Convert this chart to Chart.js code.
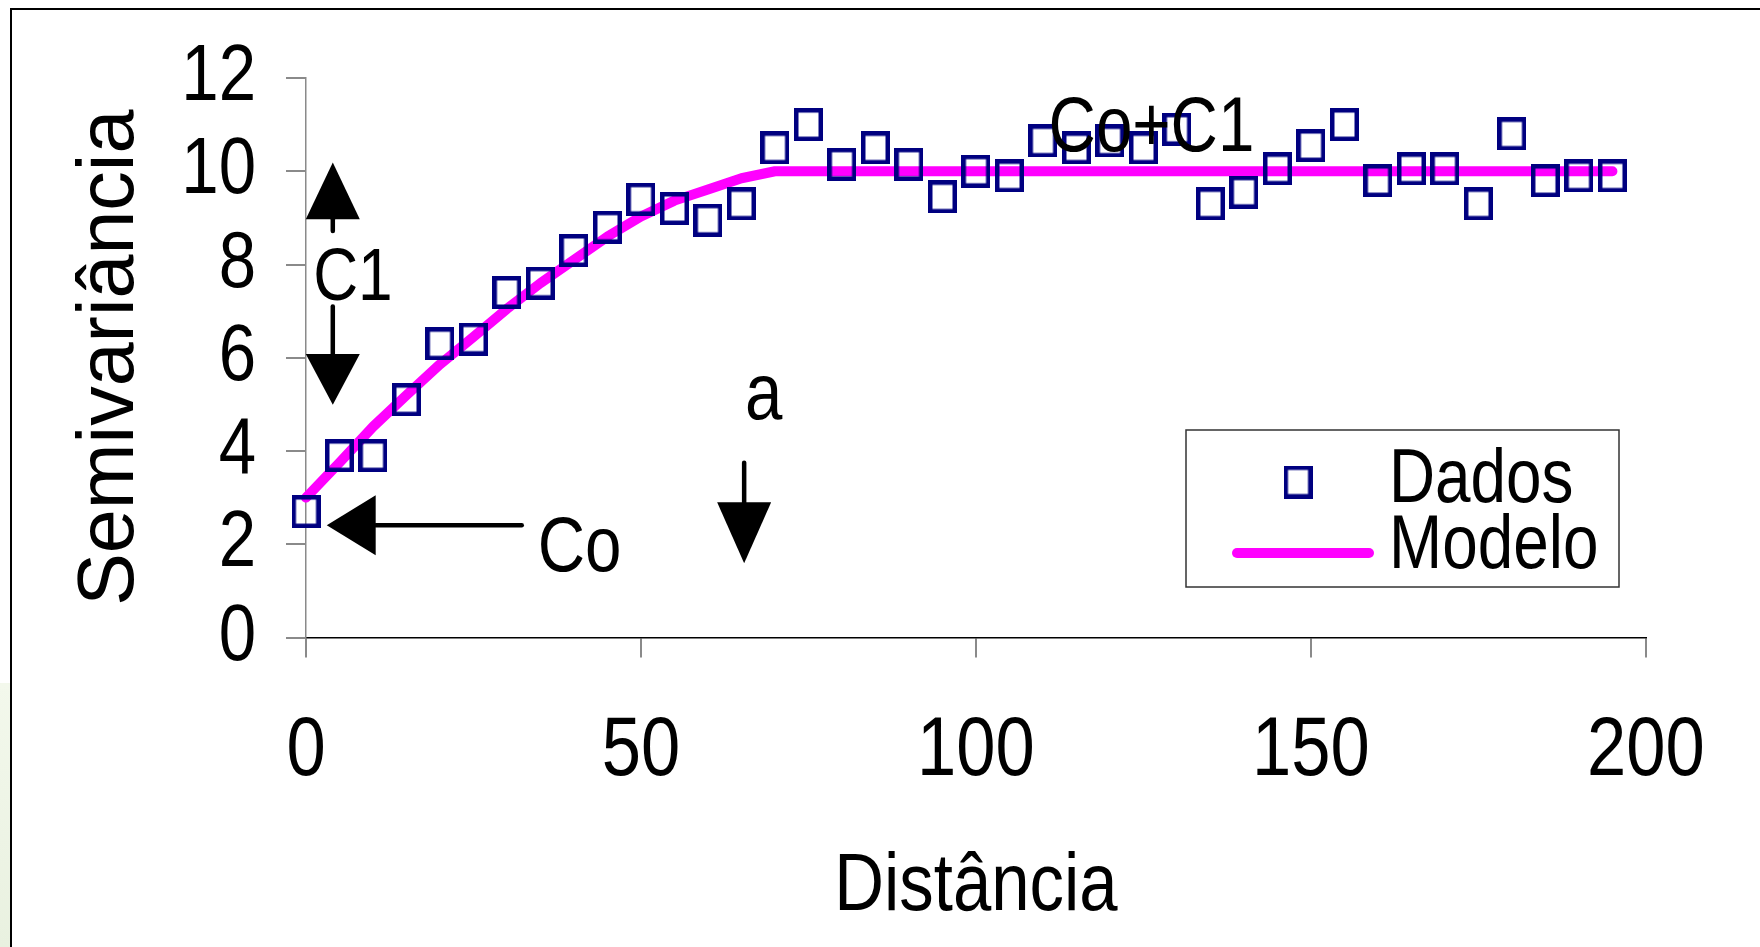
<!DOCTYPE html>
<html>
<head>
<meta charset="utf-8">
<title>Semivariograma</title>
<script src="https://cdn.jsdelivr.net/npm/chart.js@4.4.1/dist/chart.umd.min.js"></script>
<style>
  html, body { margin: 0; padding: 0; background: #fff; }
  #wrap { position: relative; width: 1760px; height: 947px; overflow: hidden; }
  #c { display: block; }
  #edge { position: absolute; left: 0; top: 683px; width: 10px; height: 264px;
          background: linear-gradient(#f3f8ec, #e9f1e0); }
</style>
</head>
<body>
<div id="wrap">
  <canvas id="c" width="1760" height="947"></canvas>
  <div id="edge"></div>
</div>
<script>
// Lag distances (same for observed and model values)
const distance = [0, 5, 10, 15, 20, 25, 30, 35, 40, 45, 50, 55, 60, 65, 70, 75, 80, 85, 90, 95,
                  100, 105, 110, 115, 120, 125, 130, 135, 140, 145, 150, 155, 160, 165, 170, 175, 180, 185, 190, 195];
// Experimental semivariance
const semivariance = [2.7, 3.9, 3.9, 5.1, 6.3, 6.4, 7.4, 7.6, 8.3, 8.8, 9.4, 9.2, 8.95, 9.3, 10.5, 11.0, 10.15, 10.5, 10.15, 9.45,
                      10.0, 9.9, 10.65, 10.5, 10.65, 10.5, 10.9, 9.3, 9.55, 10.05, 10.55, 11.0, 9.8, 10.05, 10.05, 9.3, 10.8, 9.8, 9.9, 9.9];
// Fitted model values
const model = [3.0, 3.75, 4.52, 5.2, 5.86, 6.45, 7.05, 7.6, 8.1, 8.6, 9.03, 9.37, 9.61, 9.85, 10, 10, 10, 10, 10, 10,
               10, 10, 10, 10, 10, 10, 10, 10, 10, 10, 10, 10, 10, 10, 10, 10, 10, 10, 10, 10];
const xTicks = [0, 50, 100, 150, 200];
const yTicks = [0, 2, 4, 6, 8, 10, 12];
const seriesNames = ['Dados', 'Modelo'];
const axisTitles = { x: 'Distância', y: 'Semivariância' };

// Annotation anchors, in axis units
const nuggetY = 2.41;          // Co arrow height
const sillLabel = { text: 'Co+C1', x: 126.2, y: 10.44 };
const c1Label = { text: 'C1', x: 7.0, y: 7.24 };
const coLabel = { text: 'Co', x: 34.6, y: 1.42 };
const rangeLabel = { text: 'a', x: 68.3, y: 4.69 };

const NARROW = '"Liberation Sans Narrow", "Liberation Sans", Arial, sans-serif';
const REGULAR = '"Liberation Sans", Arial, Helvetica, sans-serif';
const NAVY = '#000080';
const MAGENTA = '#ff00ff';

// Horizontal factor for the narrow face; only applied if no true narrow face is installed
const probe = document.createElement('canvas').getContext('2d');
probe.font = '100px ' + NARROW;
const wNarrow = probe.measureText('Distância').width;
probe.font = '100px ' + REGULAR;
const wRegular = probe.measureText('Distância').width;
const CONDENSE = Math.min(1, 0.84 * wRegular / wNarrow);

function useCondensedText(g) {
  const fill = g.fillText;
  g.fillText = function (text, x, y, maxWidth) {
    if (CONDENSE >= 1 || this.font.indexOf('Narrow') < 0) {
      return maxWidth === undefined ? fill.call(this, text, x, y) : fill.call(this, text, x, y, maxWidth);
    }
    this.save();
    this.translate(x, y);
    this.scale(CONDENSE, 1);
    if (maxWidth === undefined) fill.call(this, text, 0, 0);
    else fill.call(this, text, 0, 0, maxWidth / CONDENSE);
    this.restore();
  };
}

function squareMarker(w, h, lw, color) {
  const c = document.createElement('canvas');
  c.width = w; c.height = h;
  const g = c.getContext('2d');
  g.strokeStyle = color;
  g.lineWidth = lw;
  g.strokeRect(lw / 2, lw / 2, w - lw, h - lw);
  return c;
}
const marker = squareMarker(29, 33, 4.5, NAVY);

const framePlugin = {
  id: 'frame',
  beforeDraw(chart) {
    const ctx = chart.ctx;
    ctx.save();
    ctx.fillStyle = '#fff';
    ctx.fillRect(0, 0, chart.width, chart.height);
    ctx.strokeStyle = '#000';
    ctx.lineWidth = 2;
    ctx.beginPath();
    ctx.moveTo(11, chart.height + 5);
    ctx.lineTo(11, 9);
    ctx.lineTo(chart.width + 5, 9);
    ctx.stroke();
    ctx.restore();
  }
};

function triangle(ctx, tip, baseA, baseB) {
  ctx.beginPath();
  ctx.moveTo(tip[0], tip[1]);
  ctx.lineTo(baseA[0], baseA[1]);
  ctx.lineTo(baseB[0], baseB[1]);
  ctx.closePath();
  ctx.fill();
}
function shaft(ctx, x1, y1, x2, y2) {
  ctx.beginPath();
  ctx.moveTo(x1, y1);
  ctx.lineTo(x2, y2);
  ctx.stroke();
}

const annotationPlugin = {
  id: 'variogramNotes',
  afterDatasetsDraw(chart) {
    const ctx = chart.ctx;
    const xs = chart.scales.x, ys = chart.scales.y;
    const px = v => xs.getPixelForValue(v);
    const py = v => ys.getPixelForValue(v);
    ctx.save();
    ctx.fillStyle = '#000';
    ctx.strokeStyle = '#000';
    ctx.lineWidth = 4.5;
    ctx.lineCap = 'round';
    const hw = 27;

    // C1: double arrow between nugget and sill
    const cx = px(4.0);
    triangle(ctx, [cx, py(10.19)], [cx - hw, py(8.97)], [cx + hw, py(8.97)]);
    shaft(ctx, cx, py(8.97), cx, py(8.72));
    shaft(ctx, cx, py(7.1), cx, py(6.08));
    triangle(ctx, [cx, py(4.99)], [cx - hw, py(6.08)], [cx + hw, py(6.08)]);

    // Co: horizontal arrow pointing at the nugget
    const cy = py(nuggetY);
    triangle(ctx, [px(3.1), cy], [px(10.4), cy - 30], [px(10.4), cy + 30]);
    shaft(ctx, px(10.4), cy, px(32.2), cy);

    // a: range arrow
    const ax = px(65.4);
    shaft(ctx, ax, py(3.75), ax, py(2.9));
    triangle(ctx, [ax, py(1.59)], [ax - hw, py(2.9)], [ax + hw, py(2.9)]);

    ctx.textBaseline = 'alphabetic';
    ctx.textAlign = 'center';
    ctx.font = '74px ' + NARROW;
    ctx.fillText(c1Label.text, px(c1Label.x), py(c1Label.y));
    ctx.font = '80px ' + NARROW;
    ctx.fillText(rangeLabel.text, px(rangeLabel.x), py(rangeLabel.y));
    ctx.font = '78px ' + NARROW;
    ctx.fillText(sillLabel.text, px(sillLabel.x), py(sillLabel.y));
    ctx.textAlign = 'left';
    ctx.fillText(coLabel.text, px(coLabel.x), py(coLabel.y));
    ctx.restore();
  }
};

const legendPlugin = {
  id: 'boxLegend',
  afterDraw(chart) {
    const ctx = chart.ctx;
    const ds = chart.data.datasets;
    ctx.save();
    ctx.fillStyle = '#fff';
    ctx.fillRect(1186, 430, 433, 157);
    ctx.strokeStyle = '#333';
    ctx.lineWidth = 1.5;
    ctx.strokeRect(1186, 430, 433, 157);

    ctx.drawImage(ds[0].pointStyle, 1298 - ds[0].pointStyle.width / 2, 482 - ds[0].pointStyle.height / 2);
    ctx.strokeStyle = ds[1].borderColor;
    ctx.lineWidth = 10;
    ctx.lineCap = 'round';
    ctx.beginPath();
    ctx.moveTo(1237, 553);
    ctx.lineTo(1369, 553);
    ctx.stroke();

    ctx.fillStyle = '#000';
    ctx.font = '76px ' + NARROW;
    ctx.textAlign = 'left';
    ctx.textBaseline = 'alphabetic';
    ctx.fillText(ds[0].label, 1389, 502);
    ctx.fillText(ds[1].label, 1389, 568);
    ctx.restore();
  }
};

const ctx = document.getElementById('c').getContext('2d');
useCondensedText(ctx);
new Chart(ctx, {
  type: 'scatter',
  data: {
    datasets: [
      {
        label: seriesNames[0],
        data: distance.map((d, i) => ({ x: d, y: semivariance[i] })),
        pointStyle: marker,
        pointRadius: 16,
        showLine: false,
        clip: false
      },
      {
        type: 'line',
        label: seriesNames[1],
        data: distance.map((d, i) => ({ x: d, y: model[i] })),
        borderColor: MAGENTA,
        borderWidth: 10,
        borderCapStyle: 'round',
        borderJoinStyle: 'round',
        pointRadius: 0,
        tension: 0,
        fill: false,
        clip: false
      }
    ]
  },
  options: {
    responsive: false,
    animation: false,
    devicePixelRatio: 1,
    layout: { padding: { left: 0, top: 76, right: 112, bottom: 0 } },
    plugins: { legend: { display: false }, tooltip: { enabled: false } },
    scales: {
      x: {
        type: 'linear',
        min: xTicks[0],
        max: xTicks[xTicks.length - 1],
        afterBuildTicks: s => { s.ticks = xTicks.map(v => ({ value: v })); },
        afterFit: s => { s.height = 309.5; },
        ticks: { color: '#000', font: { family: NARROW, size: 84 }, padding: 44, maxRotation: 0, autoSkip: false },
        grid: { drawOnChartArea: false, drawTicks: true, tickLength: 20, color: '#8a8a8a', lineWidth: 2 },
        border: { display: true, color: '#000', width: 1.5 },
        title: { display: true, text: axisTitles.x, color: '#000',
                 font: { family: NARROW, size: 82 }, padding: { top: 0, bottom: 10.5 } }
      },
      y: {
        type: 'linear',
        min: yTicks[0],
        max: yTicks[yTicks.length - 1],
        afterBuildTicks: s => { s.ticks = yTicks.map(v => ({ value: v })); },
        afterFit: s => { s.width = 306; },
        ticks: { color: '#000', font: { family: NARROW, size: 80 }, padding: 30, autoSkip: false },
        grid: { drawOnChartArea: false, drawTicks: true, tickLength: 20, color: '#8a8a8a', lineWidth: 2 },
        border: { display: true, color: '#8a8a8a', width: 1.5 },
        title: { display: true, text: axisTitles.y, color: '#000',
                 font: { family: REGULAR, size: 79 }, padding: { top: 64, bottom: 0 } }
      }
    }
  },
  plugins: [framePlugin, annotationPlugin, legendPlugin]
});
</script>
</body>
</html>
